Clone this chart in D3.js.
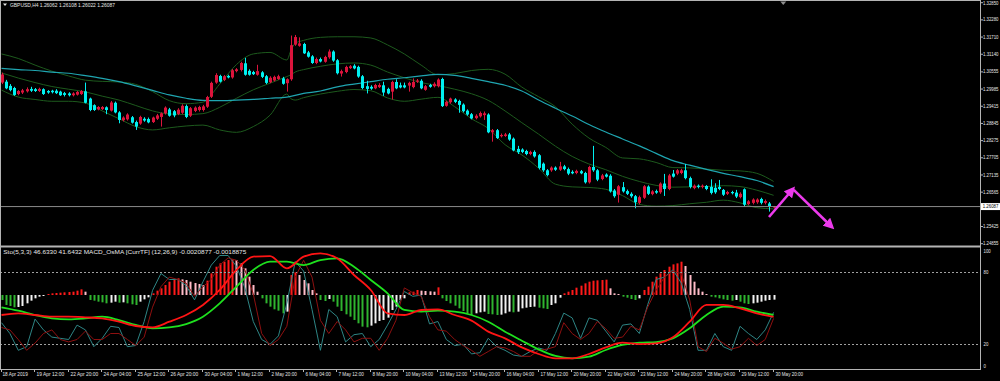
<!DOCTYPE html>
<html>
<head>
<meta charset="utf-8">
<script src="https://cdn.jsdelivr.net/npm/d3@7/dist/d3.min.js"></script>
<style>
  body { margin: 0; background: #000; }
  svg text { font-family: Tahoma, "Liberation Sans", Arial, sans-serif; }
</style>
</head>
<body>
<svg id="chart" width="1000" height="381"></svg>
<script>
// ---- candles (GBPUSD H4, 18 Apr 2019 04:00 .. 30 May 2019 20:00), one per bar index ----
const openP = [
1.3020,1.3023,1.3009,1.3002,1.2982,1.2987,1.2991,1.2999,1.2998,1.2992,
1.2998,1.2992,1.2993,1.2993,1.2990,1.2985,1.2984,1.2978,1.2980,1.2982,
1.2991,1.2967,1.2945,1.2931,1.2932,1.2938,1.2927,1.2953,1.2921,1.2895,
1.2898,1.2905,1.2889,1.2884,1.2900,1.2899,1.2889,1.2900,1.2906,1.2918,
1.2931,1.2925,1.2916,1.2920,1.2942,1.2910,1.2926,1.2929,1.2929,1.2940,
1.2973,1.3020,1.3042,1.3029,1.3042,1.3037,1.3058,1.3062,1.3084,1.3059,
1.3055,1.3046,1.3054,1.3041,1.3021,1.3027,1.3032,1.3034,1.3018,1.3031,
1.3146,1.3142,1.3148,1.3120,1.3107,1.3085,1.3098,1.3089,1.3104,1.3123,
1.3094,1.3050,1.3055,1.3068,1.3076,1.3072,1.3041,1.3008,1.3006,1.3001,
1.3005,1.3011,1.2999,1.2990,1.3022,1.3011,1.3011,1.3010,1.3005,1.3023,
1.3026,1.2996,1.3012,1.3008,1.3008,1.3032,1.2943,1.2955,1.2964,1.2959,
1.2947,1.2927,1.2915,1.2902,1.2908,1.2912,1.2914,1.2855,1.2862,1.2842,
1.2843,1.2848,1.2834,1.2800,1.2798,1.2793,1.2783,1.2790,1.2779,1.2751,
1.2729,1.2729,1.2738,1.2731,1.2742,1.2733,1.2724,1.2720,1.2726,1.2720,
1.2689,1.2740,1.2729,1.2700,1.2715,1.2711,1.2662,1.2648,1.2673,1.2660,
1.2651,1.2643,1.2621,1.2638,1.2675,1.2650,1.2660,1.2656,1.2685,1.2667,
1.2718,1.2718,1.2720,1.2729,1.2703,1.2670,1.2678,1.2674,1.2677,1.2674,
1.2671,1.2674,1.2664,1.2651,1.2657,1.2655,1.2640,1.2666,1.2617,1.2621,
1.2623,1.2634,1.2621,1.2619,1.26062];
const highP = [
1.3053,1.3029,1.3015,1.3006,1.2995,1.2999,1.3004,1.3006,1.3002,1.3003,
1.3001,1.2995,1.2996,1.2998,1.2993,1.2989,1.2988,1.2988,1.2992,1.2995,
1.3020,1.2970,1.2948,1.2942,1.2942,1.2941,1.2959,1.2957,1.2925,1.2908,
1.2918,1.2909,1.2894,1.2910,1.2905,1.2904,1.2907,1.2916,1.2921,1.2941,
1.2936,1.2929,1.2935,1.2948,1.2947,1.2939,1.2941,1.2943,1.2946,1.2976,
1.3023,1.3051,1.3046,1.3045,1.3046,1.3065,1.3068,1.3089,1.3102,1.3064,
1.3059,1.3079,1.3058,1.3045,1.3041,1.3043,1.3046,1.3039,1.3034,1.3176,
1.3178,1.3170,1.3152,1.3125,1.3111,1.3103,1.3103,1.3109,1.3130,1.3127,
1.3098,1.3063,1.3076,1.3078,1.3081,1.3076,1.3045,1.3026,1.3011,1.3016,
1.3018,1.3023,1.3003,1.3026,1.3031,1.3020,1.3020,1.3023,1.3034,1.3032,
1.3031,1.3012,1.3016,1.3021,1.3034,1.3036,1.2960,1.2970,1.2968,1.2963,
1.2951,1.2931,1.2919,1.2915,1.2924,1.2924,1.2918,1.2866,1.2866,1.2851,
1.2853,1.2853,1.2838,1.2810,1.2802,1.2797,1.2794,1.2795,1.2783,1.2755,
1.2733,1.2742,1.2742,1.2757,1.2747,1.2738,1.2729,1.2731,1.2730,1.2724,
1.2744,1.2810,1.2733,1.2717,1.2719,1.2716,1.2667,1.2680,1.2690,1.2665,
1.2656,1.2647,1.2645,1.2680,1.2679,1.2663,1.2665,1.2689,1.2717,1.2717,
1.2730,1.2733,1.2734,1.2750,1.2708,1.2682,1.2682,1.2682,1.2680,1.2699,
1.2686,1.2697,1.2667,1.2661,1.2661,1.2664,1.2656,1.2669,1.2630,1.2636,
1.2636,1.2638,1.2632,1.2624,1.26108];
const lowP = [
1.3015,1.2998,1.2991,1.2976,1.2978,1.2982,1.2987,1.2989,1.2989,1.2989,
1.2979,1.2983,1.2984,1.2982,1.2976,1.2974,1.2974,1.2974,1.2977,1.2979,
1.2951,1.2925,1.2926,1.2928,1.2929,1.2915,1.2924,1.2918,1.2885,1.2891,
1.2894,1.2884,1.2863,1.2880,1.2890,1.2885,1.2886,1.2896,1.2874,1.2914,
1.2907,1.2905,1.2912,1.2916,1.2902,1.2906,1.2922,1.2924,1.2924,1.2936,
1.2969,1.3016,1.3020,1.3025,1.3034,1.3033,1.3054,1.3057,1.3043,1.3043,
1.3045,1.3043,1.3035,1.3015,1.3018,1.3024,1.3029,1.3013,1.2990,1.3026,
1.3142,1.3139,1.3115,1.3103,1.3082,1.3081,1.3087,1.3086,1.3099,1.3089,
1.3047,1.3040,1.3051,1.3065,1.3064,1.3036,1.2998,1.2984,1.2996,1.2998,
1.3002,1.2976,1.2981,1.2964,1.2998,1.3001,1.3001,1.2990,1.3001,1.3019,
1.2998,1.2993,1.3003,1.3004,1.3004,1.2939,1.2940,1.2950,1.2952,1.2920,
1.2921,1.2910,1.2898,1.2898,1.2904,1.2896,1.2852,1.2824,1.2833,1.2838,
1.2840,1.2827,1.2792,1.2783,1.2786,1.2779,1.2779,1.2771,1.2732,1.2724,
1.2709,1.2724,1.2727,1.2727,1.2729,1.2713,1.2716,1.2716,1.2716,1.2685,
1.2685,1.2724,1.2693,1.2696,1.2705,1.2655,1.2638,1.2622,1.2655,1.2647,
1.2638,1.2603,1.2616,1.2634,1.2647,1.2646,1.2651,1.2651,1.2644,1.2663,
1.2705,1.2713,1.2716,1.2699,1.2669,1.2666,1.2669,1.2669,1.2663,1.2649,
1.2651,1.2663,1.2644,1.2647,1.2649,1.2637,1.2636,1.2608,1.2613,1.2616,
1.2618,1.2616,1.2616,1.2592,1.26022];
const closeP = [
1.3047,1.3001,1.2995,1.2979,1.2992,1.2994,1.2998,1.2993,1.2992,1.2999,
1.2982,1.2987,1.2988,1.2985,1.2978,1.2979,1.2978,1.2984,1.2989,1.2992,
1.2953,1.2929,1.2929,1.2939,1.2939,1.2929,1.2954,1.2921,1.2896,1.2904,
1.2914,1.2887,1.2874,1.2906,1.2894,1.2888,1.2904,1.2911,1.2918,1.2937,
1.2910,1.2911,1.2930,1.2943,1.2906,1.2935,1.2937,1.2939,1.2941,1.2972,
1.3019,1.3045,1.3023,1.3041,1.3037,1.3061,1.3064,1.3085,1.3046,1.3046,
1.3048,1.3058,1.3039,1.3019,1.3036,1.3039,1.3041,1.3016,1.3031,1.3144,
1.3171,1.3150,1.3117,1.3106,1.3085,1.3098,1.3090,1.3105,1.3123,1.3093,
1.3051,1.3058,1.3072,1.3074,1.3067,1.3040,1.3002,1.2999,1.3000,1.3012,
1.3012,1.2987,1.2984,1.3022,1.3001,1.3004,1.3004,1.3019,1.3022,1.3027,
1.3001,1.3008,1.3006,1.3016,1.3030,1.2942,1.2956,1.2967,1.2956,1.2946,
1.2925,1.2914,1.2901,1.2910,1.2919,1.2918,1.2855,1.2862,1.2836,1.2846,
1.2848,1.2831,1.2795,1.2789,1.2790,1.2783,1.2790,1.2775,1.2737,1.2729,
1.2713,1.2738,1.2731,1.2742,1.2733,1.2718,1.2719,1.2727,1.2719,1.2689,
1.2740,1.2729,1.2698,1.2712,1.2708,1.2659,1.2643,1.2676,1.2659,1.2651,
1.2643,1.2623,1.2640,1.2676,1.2651,1.2659,1.2655,1.2685,1.2667,1.2712,
1.2708,1.2729,1.2729,1.2703,1.2674,1.2678,1.2674,1.2678,1.2667,1.2654,
1.2656,1.2667,1.2648,1.2657,1.2653,1.2642,1.2651,1.2615,1.2626,1.2632,
1.2632,1.2621,1.2627,1.2609,1.26087];

// ---- Bollinger bands (20) at these bar indices ----
const bandIdx = [0,4,8,12,16,20,24,28,32,36,40,44,48,52,56,60,64,68,69,70,72,76,80,84,88,92,96,100,104,108,112,116,120,124,128,132,136,140,144,148,152,156,160,164,168,172,176,180,184];
const bbUpper = [1.3115,1.3100,1.3078,1.3058,1.3042,1.3028,1.3024,1.3022,1.3014,1.2990,1.2960,1.2950,1.2955,1.3015,1.3080,1.3115,1.3120,1.3095,1.3128,1.3150,1.3160,1.3170,1.3172,1.3172,1.3168,1.3145,1.3115,1.3078,1.3046,1.3050,1.3060,1.3064,1.3048,1.3005,1.2973,1.2940,1.2882,1.2836,1.2805,1.2770,1.2767,1.2755,1.2738,1.2737,1.2733,1.2729,1.2727,1.2719,1.2692];
const bbMiddle = [1.3052,1.3035,1.3020,1.3007,1.2998,1.2989,1.2975,1.2962,1.2944,1.2926,1.2916,1.2914,1.2917,1.2938,1.2968,1.2996,1.3018,1.3040,1.3046,1.3055,1.3063,1.3074,1.3082,1.3085,1.3078,1.3055,1.3036,1.3020,1.3010,1.2998,1.2983,1.2961,1.2926,1.2887,1.2849,1.2809,1.2775,1.2750,1.2731,1.2709,1.2692,1.2679,1.2673,1.2674,1.2675,1.2678,1.2675,1.2663,1.2646];
const bbLower = [1.2995,1.2972,1.2964,1.2958,1.2958,1.2952,1.2926,1.2900,1.2874,1.2863,1.2870,1.2876,1.2879,1.2863,1.2855,1.2874,1.2912,1.2982,1.2966,1.2962,1.2970,1.2982,1.2991,1.2997,1.2993,1.2969,1.2958,1.2965,1.2971,1.2940,1.2900,1.2868,1.2814,1.2780,1.2736,1.2683,1.2674,1.2672,1.2666,1.2645,1.2616,1.2610,1.2612,1.2618,1.2623,1.2630,1.2621,1.2605,1.2601];

// ---- long moving average (cyan), every 4th bar ----
const maIdx = d3.range(0, 185, 4);
const maLine = [1.3067,1.3063,1.3060,1.3055,1.3051,1.3043,1.3034,1.3023,1.3009,1.2994,1.2979,1.2968,1.2961,1.2960,1.2962,1.2964,1.2968,1.2972,1.2984,1.2992,1.3006,1.3015,1.3023,1.3031,1.3036,1.3042,1.3047,1.3044,1.3034,1.3023,1.3011,1.2992,1.2962,1.2935,1.2909,1.2881,1.2856,1.2833,1.2810,1.2785,1.2761,1.2746,1.2732,1.2719,1.2708,1.2695,1.2675];

// ---- sub window: MACD lines (every 4th bar), OsMA histogram (every bar), stochastic (every 2nd bar) ----
const macdMain = [-0.00191,-0.00175,-0.00191,-0.00207,-0.00207,-0.00213,-0.00223,-0.00255,-0.00296,-0.00309,-0.00255,-0.00191,-0.00095,0.00048,0.00239,0.00366,0.00372,0.00255,0.00366,0.00398,0.00350,0.00191,0.00048,-0.00175,-0.00191,-0.00143,-0.00137,-0.00191,-0.00245,-0.00350,-0.00414,-0.00500,-0.00563,-0.00605,-0.00605,-0.00563,-0.00500,-0.00455,-0.00468,-0.00461,-0.00404,-0.00255,-0.00095,-0.00095,-0.00127,-0.00175,-0.00209];
const macdSignal = [-0.00118,-0.00150,-0.00191,-0.00223,-0.00232,-0.00223,-0.00207,-0.00239,-0.00286,-0.00318,-0.00309,-0.00277,-0.00207,-0.00080,0.00080,0.00239,0.00318,0.00318,0.00286,0.00334,0.00350,0.00270,0.00143,0.00016,-0.00143,-0.00159,-0.00150,-0.00159,-0.00191,-0.00255,-0.00350,-0.00436,-0.00519,-0.00582,-0.00605,-0.00589,-0.00525,-0.00477,-0.00455,-0.00449,-0.00414,-0.00318,-0.00191,-0.00111,-0.00118,-0.00159,-0.00189];
const osma = [
-15,-30,-33,-37,-36,-33,-25,-17,-10,-5,
-3,3,5,6,7,8,9,10,13,17,
10,-15,-17,-20,-22,-25,-23,-20,-23,-22,
-25,-28,-30,-20,-13,-7,5,13,20,30,
40,47,50,47,45,40,36,33,30,43,
65,85,95,100,105,107,105,95,80,55,
30,10,-10,-25,-35,-43,-47,-55,-50,60,
68,60,45,35,15,5,-15,-18,-12,-20,
-35,-48,-58,-65,-75,-85,-95,-97,-92,-85,
-78,-75,-68,-45,-35,-15,-10,8,10,15,
13,12,11,10,23,-10,-18,-25,-32,-40,
-48,-55,-60,-55,-52,-50,-57,-58,-60,-59,
-55,-50,-52,-50,-40,-38,-36,-35,-38,-40,
-42,-30,-25,-8,5,10,15,22,28,35,
40,43,44,45,46,20,5,3,-5,-8,
-12,-15,-10,15,25,40,55,65,75,85,
92,95,100,87,60,40,20,10,3,-5,
-7,-10,-13,-15,-17,-15,-20,-25,-27,-25,
-23,-20,-17,-15,-14];
const stoIdx = d3.range(0, 185, 2);
const stochK = [38,29,15,18,41,32,26,25,24,36,32,18,25,35,34,18,19,39,65,79,74,74,69,57,72,86,94,94,85,67,39,24,20,27,54,89,81,49,15,49,43,22,28,29,18,24,36,49,64,60,61,37,39,24,19,20,12,13,25,18,15,11,10,14,17,15,29,46,42,25,42,40,31,22,36,37,29,53,74,76,82,71,49,15,15,29,18,15,35,29,24,32,46.6];
const stochD = [34,32,24,15,21,29,32,24,22,24,31,24,24,29,29,24,19,26,51,68,76,74,71,60,68,74,86,92,90,82,62,29,19,24,35,76,90,76,40,29,39,32,22,25,25,15,25,40,67,63,60,43,32,31,24,19,15,10,14,18,17,14,10,10,15,16,18,38,29,24,29,39,33,25,26,35,32,51,65,76,81,79,57,18,14,25,21,16,18,25,19,24,41.6];

// ---- axis labels ----
const priceTicks = ["1.32850","1.32280","1.31710","1.31140","1.30555","1.29985","1.29415","1.28845","1.28275","1.27705","1.27135","1.26565","1.25425","1.24855"];
const timeTicks = ["18 Apr 2019","19 Apr 12:00","22 Apr 20:00","24 Apr 04:00","25 Apr 12:00","26 Apr 20:00","30 Apr 04:00","1 May 12:00","2 May 20:00","6 May 04:00","7 May 12:00","8 May 20:00","10 May 04:00","13 May 12:00","14 May 20:00","16 May 04:00","17 May 12:00","20 May 20:00","22 May 04:00","23 May 12:00","24 May 20:00","28 May 04:00","29 May 12:00","30 May 20:00"];
const stoLevels = [100, 80, 20, 0];
const lastQuote = { open: 1.26062, high: 1.26108, low: 1.26022, close: 1.26087 };
// hand-drawn forecast arrows: [barIndex, price]
const arrows = [[[182.9, 1.2574], [188.6, 1.2667]], [[188.8, 1.2664], [197.9, 1.2541]]];

const svg = d3.select("#chart");
svg.append("rect").attr("width", 1000).attr("height", 381).attr("fill", "#000");

const x = d3.scaleLinear().domain([0, 184]).range([1.5, 773.6]);
const y = d3.scaleLinear().domain([1.24855, 1.32850]).range([243.7, 2.7]);
const ySto = d3.scaleLinear().domain([0, 100]).range([368.3, 248.3]);
const yMacd = d3.scaleLinear().domain([-0.0021, 0]).range([317, 295]);
const yOs = d3.scaleLinear().domain([-100, 100]).range([328.3, 261.7]);

const defs = svg.append("defs");
defs.append("clipPath").attr("id", "clipMain").append("rect").attr("x", 0).attr("y", 2).attr("width", 980).attr("height", 243);
defs.append("clipPath").attr("id", "clipSub").append("rect").attr("x", 1).attr("y", 248).attr("width", 979).attr("height", 120.5);
defs.append("marker").attr("id", "ah").attr("viewBox", "0 0 10 10").attr("refX", 7).attr("refY", 5)
  .attr("markerWidth", 4.2).attr("markerHeight", 4.2).attr("orient", "auto")
  .append("path").attr("d", "M0,0L10,5L0,10z").attr("fill", "#ec3aec");

// ---------- main window ----------
const main = svg.append("g").attr("clip-path", "url(#clipMain)");

const smooth = (ys) => d3.line().x(d => x(d[0])).y(d => ys(d[1])).curve(d3.curveMonotoneX);
const pairs = (idx, vals) => idx.map((i, k) => [i, vals[k]]);

[bbUpper, bbMiddle, bbLower].forEach(b => {
  main.append("path").datum(pairs(bandIdx, b)).attr("d", smooth(y))
    .attr("fill", "none").attr("stroke", "#1d5a1d").attr("stroke-width", 1);
});
main.append("path").datum(pairs(maIdx, maLine)).attr("d", smooth(y))
  .attr("fill", "none").attr("stroke", "#1fa5b0").attr("stroke-width", 1.2);

const bars = d3.range(openP.length);
const candleColor = i => closeP[i] >= openP[i] ? "#dc143c" : "#00f0f0";
main.selectAll("line.wick").data(bars).join("line").attr("class", "wick")
  .attr("x1", i => Math.round(x(i)) + 0.5).attr("x2", i => Math.round(x(i)) + 0.5)
  .attr("y1", i => y(highP[i])).attr("y2", i => y(lowP[i]))
  .attr("stroke", candleColor).attr("stroke-width", 1);
main.selectAll("rect.body").data(bars).join("rect").attr("class", "body")
  .attr("x", i => Math.round(x(i)) - 1)
  .attr("y", i => y(Math.max(openP[i], closeP[i])))
  .attr("width", 3)
  .attr("height", i => Math.max(1, Math.abs(y(openP[i]) - y(closeP[i]))))
  .attr("fill", candleColor);

// bid line
svg.append("line").attr("x1", 0).attr("x2", 980).attr("y1", y(lastQuote.close)).attr("y2", y(lastQuote.close))
  .attr("stroke", "#8a8a8a").attr("stroke-width", 1);

// arrows
svg.selectAll("line.arrow").data(arrows).join("line").attr("class", "arrow")
  .attr("x1", d => x(d[0][0])).attr("y1", d => y(d[0][1]))
  .attr("x2", d => x(d[1][0])).attr("y2", d => y(d[1][1]))
  .attr("stroke", "#ec3aec").attr("stroke-width", 2.6).attr("marker-end", "url(#ah)");

// ---------- sub window ----------
const sub = svg.append("g").attr("clip-path", "url(#clipSub)");
const osColor = i => {
  const v = osma[i], p = i > 0 ? osma[i - 1] : 0;
  if (v >= 0) return v >= p ? "#ff1a1a" : "#ffbcc8";
  return v < p ? "#2fb42f" : "#f2f2f2";
};
sub.selectAll("rect.os").data(bars).join("rect").attr("class", "os")
  .attr("x", i => Math.round(x(i)) - 0.5)
  .attr("width", 2)
  .attr("y", i => Math.min(yOs(0), yOs(osma[i])))
  .attr("height", i => Math.abs(yOs(osma[i]) - yOs(0)))
  .attr("fill", osColor);

[80, 20].forEach(l => {
  sub.append("line").attr("x1", 0).attr("x2", 980).attr("y1", Math.round(ySto(l)) + 0.5).attr("y2", Math.round(ySto(l)) + 0.5)
    .attr("stroke", "#a0a0a0").attr("stroke-width", 1).attr("stroke-dasharray", "2,2");
});

const lin = (ys) => d3.line().x(d => x(d[0])).y(d => ys(d[1]));
sub.append("path").datum(pairs(stoIdx, stochK)).attr("d", lin(ySto))
  .attr("fill", "none").attr("stroke", "#2e8585").attr("stroke-width", 1);
sub.append("path").datum(pairs(stoIdx, stochD)).attr("d", lin(ySto))
  .attr("fill", "none").attr("stroke", "#8e1010").attr("stroke-width", 1);
sub.append("path").datum(pairs(maIdx, macdSignal)).attr("d", smooth(yMacd))
  .attr("fill", "none").attr("stroke", "#1ee01e").attr("stroke-width", 1.8);
sub.append("path").datum(pairs(maIdx, macdMain)).attr("d", smooth(yMacd))
  .attr("fill", "none").attr("stroke", "#ff1414").attr("stroke-width", 1.8);

// ---------- frames ----------
const frame = "#b4b4b4";
svg.append("line").attr("x1", 0).attr("x2", 981).attr("y1", 0.5).attr("y2", 0.5).attr("stroke", frame);
svg.append("line").attr("x1", 0.5).attr("x2", 0.5).attr("y1", 0).attr("y2", 369.5).attr("stroke", frame);
svg.append("line").attr("x1", 980.5).attr("x2", 980.5).attr("y1", 0).attr("y2", 369.5).attr("stroke", frame);
svg.append("rect").attr("x", 0).attr("y", 245.5).attr("width", 981).attr("height", 2).attr("fill", frame);
svg.append("line").attr("x1", 0).attr("x2", 981).attr("y1", 369.5).attr("y2", 369.5).attr("stroke", frame);

// shift marker
const sx = x(186.3);
svg.append("path").attr("d", `M${sx - 3},1.5L${sx + 3},1.5L${sx},5z`).attr("fill", "#8c8c8c");

// small text helper: fixed width so the tiny labels sit like the terminal's
function label(px, py, str, width, size, fill) {
  return svg.append("text").attr("x", px).attr("y", py).attr("dy", "0.35em").attr("font-size", size)
    .attr("fill", fill || "#e6e6e6").attr("textLength", width).attr("lengthAdjust", "spacingAndGlyphs").text(str);
}

// price axis (narrow so it stays inside the window)
priceTicks.forEach(t => {
  const yy = Math.max(y(+t), 3.2);
  svg.append("line").attr("x1", 981).attr("x2", 983).attr("y1", y(+t)).attr("y2", y(+t)).attr("stroke", frame);
  label(983, yy, t, 15.5, 4.6);
});
const by = y(lastQuote.close);
svg.append("rect").attr("x", 981).attr("y", by - 3.5).attr("width", 19).attr("height", 7).attr("fill", "#ffffff");
label(982.8, by, lastQuote.close.toFixed(5), 15.5, 4.6, "#000");

// sub axis
stoLevels.forEach(l => {
  const yy = l === 100 ? ySto(l) + 3 : l === 0 ? ySto(l) - 2 : ySto(l);
  label(983.5, yy, String(l), String(l).length * 2.4, 4.8);
});

// time axis
timeTicks.forEach((t, k) => {
  const xx = Math.round(x(k * 8)) - 0.5;
  svg.append("line").attr("x1", xx).attr("x2", xx).attr("y1", 369.5).attr("y2", 372).attr("stroke", frame);
  label(xx + (k === 0 ? 1 : 2), 374.5, t, t.length * 2.3, 5.2);
});

// titles
svg.append("path").attr("d", "M3,3.5L7,3.5L5,6z").attr("fill", "#e6e6e6");
label(10, 5, `GBPUSD,H4  ${lastQuote.open.toFixed(5)} ${lastQuote.high.toFixed(5)} ${lastQuote.low.toFixed(5)} ${lastQuote.close.toFixed(5)}`, 105, 5.4);
label(3.3, 252, "Sto(5,3,3) 46.6330 41.6432  MACD_OsMA [CurrTF] (12,26,9) -0.0020877 -0.0018875", 243, 5.6);
</script>
</body>
</html>
